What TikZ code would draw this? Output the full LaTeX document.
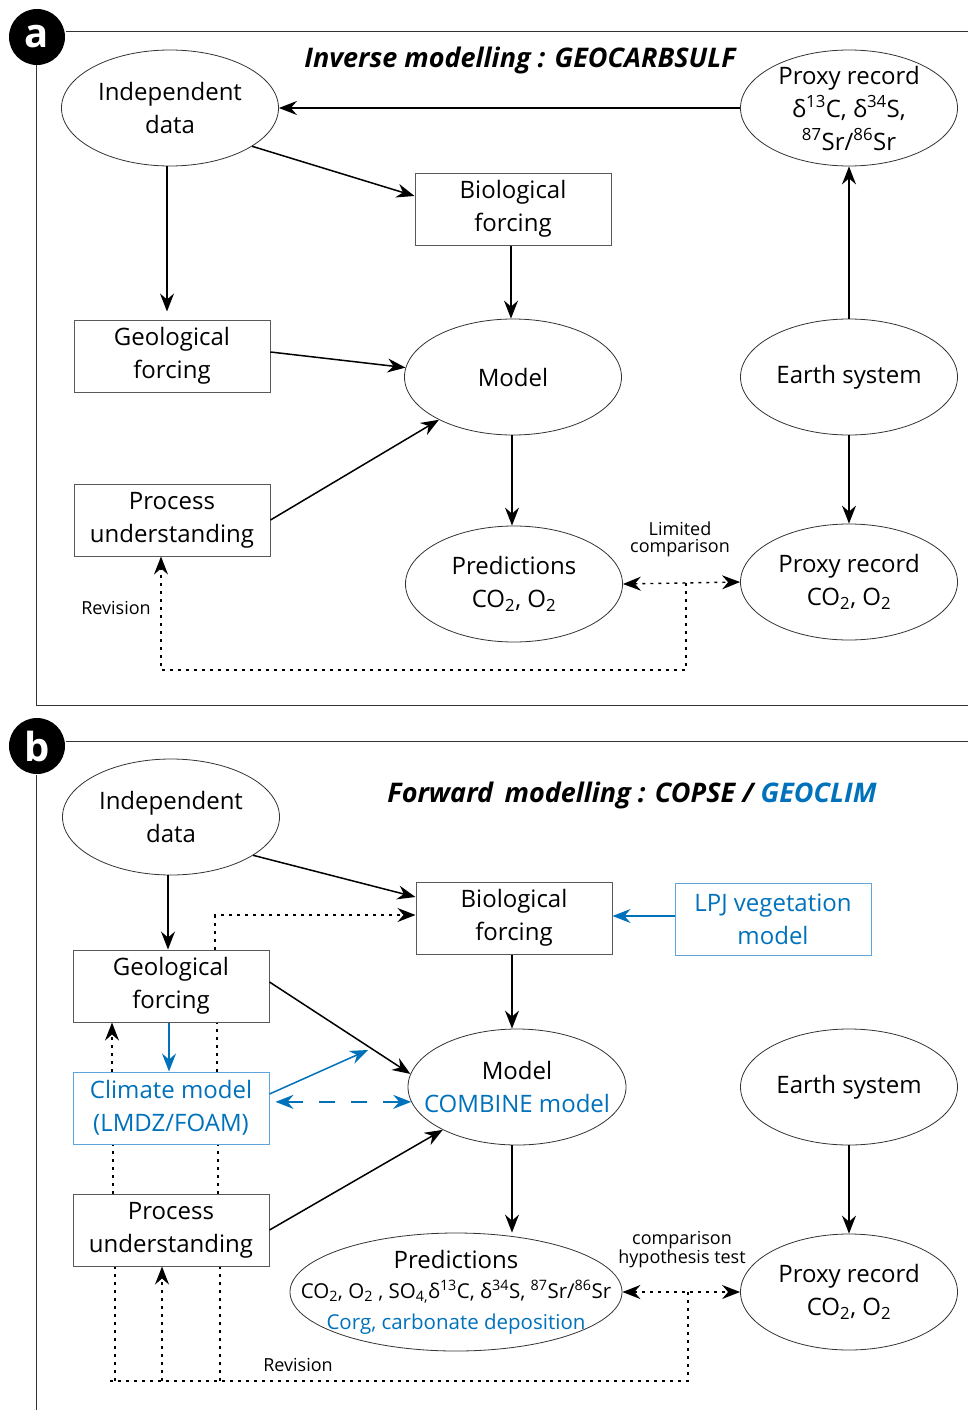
\documentclass[tikz,border=0pt]{standalone}
\usepackage{fontspec}
\setmainfont{Open Sans}
\usetikzlibrary{shapes.geometric,arrows.meta}
\definecolor{modblue}{RGB}{0,114,188}
\definecolor{boxblue}{RGB}{95,165,220}
\newcommand{\dlt}{δ}
\newcommand{\subx}[1]{\textsubscript{#1}}
\newcommand{\supx}[1]{\textsuperscript{#1}}

\tikzset{
  every node/.style={font=\fontsize{24}{33}\selectfont},
  procbox/.style={draw=black!65, line width=1pt, fill=white, minimum width=196pt,
    minimum height=72pt, inner sep=0pt, align=center},
  bluebox/.style={procbox, draw=boxblue, text=modblue},
  oval/.style={ellipse, draw=black!80, line width=0.8pt, fill=white, minimum width=217pt,
    minimum height=116pt, inner xsep=-40pt, inner ysep=-10pt, align=center},
  tip/.style={-{Stealth[length=18pt,width=14pt,inset=6pt]}},
  twotip/.style={{Stealth[length=18pt,width=14pt,inset=6pt]}-{Stealth[length=18pt,width=14pt,inset=6pt]}},
  flow/.style={tip, line width=1.5pt},
  blueflow/.style={flow, draw=modblue},
  bluedash/.style={twotip, draw=modblue, line width=1.5pt, dash pattern=on 16pt off 16pt},
  revline/.style={line width=1.4pt, dash pattern=on 3pt off 5pt},
  small/.style={font=\fontsize{18}{17}\selectfont, align=center},
  title/.style={font=\fontsize{27}{30}\bfseries\itshape\selectfont},
  tag/.style={circle, fill=black, minimum size=56pt, inner sep=0pt, text=white,
    font=\fontsize{40}{40}\bfseries\selectfont},
  panel/.style={line width=1pt, draw=black!80}
}

\begin{document}
\begin{tikzpicture}[x=1pt,y=-1pt]
  \useasboundingbox (0,0) rectangle (968,1410);

  % --- PANEL (A) : INVERSE MODELLING ---
  \node[tag] (tagA) at (37,37) {a};
  \draw[panel] (66,32) -- (968,32);
  \draw[panel] (36,65) -- (36,705) -- (968,705);
  \node[title] (titleA) at (520,60) {Inverse modelling : GEOCARBSULF};

  \node[oval] (indA) at (170,108) {Independent\\data};
  \node[oval] (proxyA) at (849,108) {Proxy record\\ \dlt\supx{13}C, \dlt\supx{34}S,\\ \supx{87}Sr/\supx{86}Sr};
  \node[procbox] (bioA) at (513,209) {Biological\\forcing};
  \node[procbox] (geoA) at (172,356) {Geological\\forcing};
  \node[oval] (modelA) at (513,377) {Model};
  \node[oval] (earthA) at (849,377) {Earth system};
  \node[procbox] (procA) at (172,520) {Process\\understanding};
  \node[oval] (predA) at (514,584) {Predictions\\CO\subx{2}, O\subx{2}};
  \node[oval] (proxyCA) at (849,582) {Proxy record\\CO\subx{2}, O\subx{2}};
  \node[small] (limA) at (680,539) {Limited\\comparison};
  \node[small] (revtxtA) at (116,608) {Revision};

  \draw[flow] (proxyA.west) -- (indA.east);
  \draw[flow] (indA.-25) -- ([yshift=13pt]bioA.west);
  \draw[flow] ([xshift=-3pt]indA.south) -- ([xshift=-5pt,yshift=8pt]geoA.north);
  \draw[flow] ([xshift=-2pt]bioA.south) -- ([xshift=-2pt]modelA.north);
  \draw[flow] ([yshift=4pt]geoA.east) -- (modelA.175);
  \draw[flow] (procA.east) -- (modelA.210);
  \draw[flow] ([xshift=-1pt]modelA.south) -- ([xshift=-2pt]predA.north);
  \draw[flow] (earthA.north) -- (proxyA.south);
  \draw[flow] (earthA.south) -- (proxyCA.north);

  \coordinate (cmpA) at (686,583);
  \coordinate (revA) at (686,670);
  \draw[revline,twotip] (predA.east) -- (proxyCA.west);
  \draw[revline,tip] (cmpA) -- (revA) -| ([xshift=-11pt]procA.south);

  % --- PANEL (B) : FORWARD MODELLING ---
  \node[tag] (tagB) at (37,746) {b};
  \draw[panel] (66,741) -- (968,741);
  \draw[panel] (36,775) -- (36,1410);
  \node[title] (titleB) at (632,795) {Forward\, modelling : COPSE / \textcolor{modblue}{GEOCLIM}};

  \node[oval] (indB) at (171,817) {Independent\\data};
  \node[procbox] (bioB) at (514,918) {Biological\\forcing};
  \node[bluebox] (lpjB) at (773,919) {LPJ vegetation\\model};
  \node[procbox] (geoB) at (171,986) {Geological\\forcing};
  \node[oval, minimum width=218pt] (modelB) at (517,1087) {Model\\ \textcolor{modblue}{COMBINE model}};
  \node[bluebox] (climB) at (171,1108) {Climate model\\(LMDZ/FOAM)};
  \node[oval] (earthB) at (849,1087) {Earth system};
  \node[procbox] (procB) at (171,1230) {Process\\understanding};
  \node[oval, minimum width=332pt, minimum height=118pt] (predB) at (456,1292)
    {Predictions\\[-3pt]
     {\fontsize{20.5}{28}\selectfont CO\subx{2}, O\subx{2} , SO\subx{4,}\dlt\supx{13}C, \dlt\supx{34}S, \supx{87}Sr/\supx{86}Sr}\\[-2pt]
     {\fontsize{20.5}{28}\selectfont\color{modblue}Corg, carbonate deposition}};
  \node[oval] (proxyCB) at (849,1292) {Proxy record\\CO\subx{2}, O\subx{2}};
  \node[small] (cmpTxtB) at (682,1250) {comparison\\hypothesis test};
  \node[small] (revtxtB) at (298,1365) {Revision};

  \draw[flow] (indB.-25) -- ([yshift=21pt]bioB.west);
  \draw[flow] ([xshift=-3pt]indB.south) -- ([xshift=-3pt]geoB.north);
  \draw[flow] ([xshift=-2pt]bioB.south) -- ([xshift=-5pt]modelB.north);
  \draw[blueflow] ([yshift=3pt]lpjB.west) -- ([yshift=3pt]lpjB.west -| bioB.east);
  \draw[flow] ([yshift=4pt]geoB.east) -- (modelB.173);
  \draw[blueflow] ([xshift=-2pt]geoB.south) -- ([xshift=-2pt]climB.north);
  \coordinate (combIn) at (368,1050);
  \draw[blueflow] ([yshift=14pt]climB.east) -- (combIn);
  \draw[bluedash] ([xshift=6pt]climB.east |- modelB.188) -- (modelB.188);
  \draw[flow] (procB.east) -- (modelB.210);
  \draw[flow] ([xshift=-5pt]modelB.south) -- ([xshift=-5pt]modelB.south |- predB.north);
  \draw[flow] (earthB.south) -- (proxyCB.north);

  % comparison and revision loops
  \coordinate (cmpB) at (688,1292);
  \coordinate (revB) at (688,1381);
  \coordinate (revBend) at (110,1381);
  \draw[revline,twotip] (predB.east) -- (proxyCB.west);
  \draw[revline] (cmpB) -- (revB) -- (revBend);
  \draw[revline] ([xshift=-56pt]procB.south |- revBend) -- ([xshift=-56pt]procB.south);
  \draw[revline,tip] ([xshift=-9pt]procB.south |- revBend) -- ([xshift=-9pt]procB.south);
  \draw[revline] ([xshift=49pt]procB.south |- revBend) -- ([xshift=49pt]procB.south);
  \draw[revline] ([xshift=-58pt]procB.north) -- ([xshift=-58pt]climB.south);
  \draw[revline] ([xshift=47pt]procB.north) -- ([xshift=47pt]climB.south);
  \draw[revline,tip] ([xshift=-59pt]climB.north) -- ([xshift=-59pt]geoB.south);
  \draw[revline] ([xshift=46pt]climB.north) -- ([xshift=46pt]geoB.south);
  \draw[revline,tip] ([xshift=44pt]geoB.north) |- ([yshift=3pt]bioB.west);
\end{tikzpicture}
\end{document}
